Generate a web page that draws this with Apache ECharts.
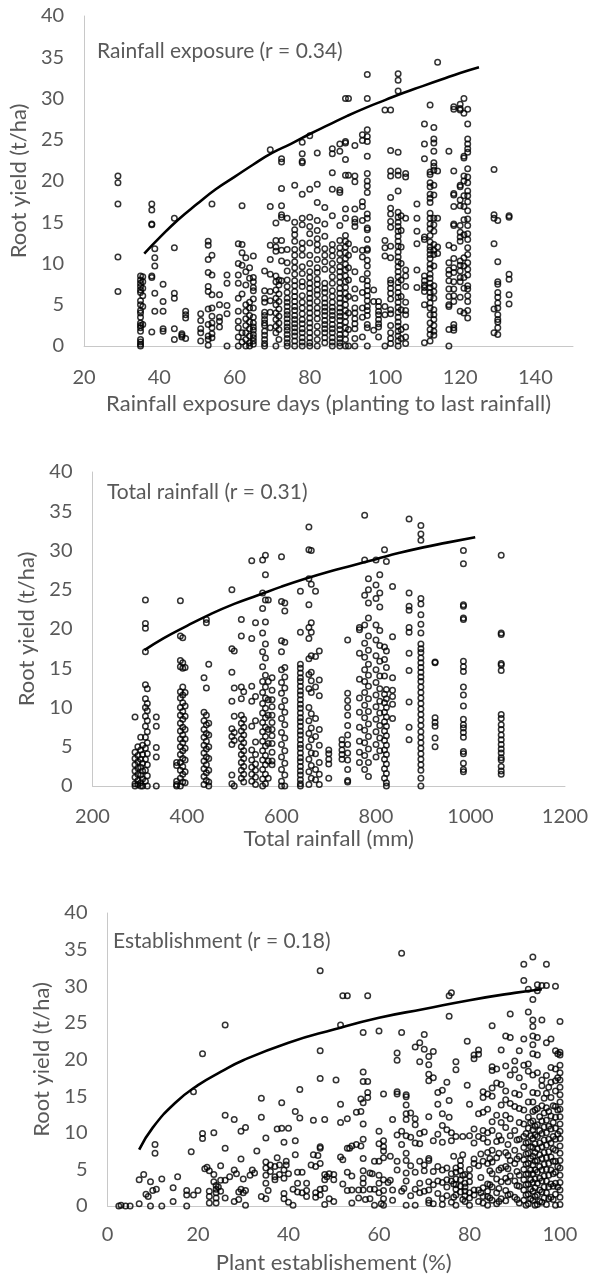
<!DOCTYPE html>
<html><head><meta charset="utf-8">
<script src="https://cdn.jsdelivr.net/npm/echarts@6/dist/echarts.min.js"></script>
<style>html,body{margin:0;padding:0;background:#fff}#c{width:592px;height:1277px}</style>
</head><body><div id="c"></div>
<script>
// Panel 1: rainfall exposure days -> yield, columns [x, [yields]]
const exposureCols = [
[29,[20.6,19.8,17.2,10.8,6.6]],
[35,[8.5,8.0,7.6,7.2,6.8,6.5,5.5,5.0,4.3,4.0,3.5,2.8,2.5,2.2,1.8,0.8,0.5,0.2,0]],
[35.6,[8.4,7.8,7.0,6.1,4.8,2.6]],
[38,[17.2,16.5,14.8,14.7,8.5,8.3,1.7]],
[38.8,[11.8,10.7,9.7,6.4,4.2]],
[41,[7.5,5.4,4.2,2.1,1.8]],
[44,[15.5,11.9,6.4,5.8,2.1,0.8]],
[46,[1.5,1.3,1.1]],
[47,[4.2,3.8,3.4,0.9]],
[51,[3.9,3.1,2.1,1.6,0.6]],
[53,[12.7,12.2,10.5,8.9,7.2,6.6,4.5,2.6,1.2,0.8,0.1]],
[54,[17.2,11.0,8.6,6.2,4.6,3.6,2.8,2.2,1.5,1.0]],
[56,[6.2,5.0,3.5,3.0,2.3]],
[58,[8.6,7.6,4.9,3.9,0]],
[61,[12.4,10.0,8.6,7.6,5.8,4.2,3.0,2.2,1.1,0]],
[62,[17.0,12.3,11.3,9.8,6.3,1.6,0.5]],
[63,[10.7,9.0,7.4,5.0,4.2,3.3,2.5,1.6,0.8,0]],
[64,[9.5,8.2,5.3,4.6,3.7,2.9,2.1,1.2,0.4,0]],
[65,[10.9,8.3,7.8,7.1,6.7,5.7,4.6,3.5,2.8,2.3,1.9,1.4,1.0,0.6,0.2]],
[68,[9.1,6.7,5.8,5.3,4.1,3.7,3.2,2.8,2.5,1.8,1.3,0.8,0.3,0]],
[69.5,[23.8,16.9,12.2,10.5,8.7,6.6,5.5,4.1,2.2]],
[71,[14.9,12.8,12.0,11.5,8.5,7.8,6.8,5.8,5.0,4.0,3.2,2.4,1.6,0]],
[71.8,[8.0,7.4,6.3,5.4,4.5,3.6,2.8,2.0,0.8]],
[72.5,[22.7,22.3,19.1,17.0,15.9,15.6,12.8,11.6,10.3,7.9]],
[74,[15.5,11.7,10.1,9.1,8.0,7.2,6.5,5.8,5.3,4.8,4.2,3.8,3.3,2.8,2.3,1.9,1.4,0.9,0.4,0]],
[76,[19.5,15.0,14.1,13.5,12.7,11.7,11.0,10.2,9.5,8.7,7.9,7.3,6.6,6.0,5.4,4.8,4.3,3.7,3.2,2.7,2.2,1.7,1.2,0.6,0]],
[78,[24.7,23.3,22.4,22.2,18.4,15.5,14.7,12.5,11.8,11.0,9.6,8.8,7.8,7.2,6.1,5.3,4.6,3.9,3.2,2.7,2.1,1.6,1.0,0.5,0]],
[80,[25.5,19.0,15.6,14.5,13.6,12.5,11.0,10.0,9.0,8.3,7.6,7.0,6.4,5.8,5.2,4.6,4.0,3.4,2.8,2.2,1.6,1.0,0.4,0]],
[82,[23.4,19.6,17.4,15.2,14.0,13.0,12.3,11.6,10.5,9.5,8.9,8.1,7.5,6.8,6.2,5.4,4.6,4.0,3.3,2.4,1.6,0.8,0]],
[84,[16.8,14.8,13.3,11.8,11.0,10.2,9.3,7.6,7.0,6.5,5.8,5.2,4.7,4.2,3.7,3.1,2.6,2.1,1.6,1.0,0.4]],
[86,[23.9,23.3,21.0,19.0,15.8,12.3,11.6,10.9,10.0,9.2,8.4,7.6,6.7,6.0,5.3,4.7,4.2,3.7,3.2,2.6,2.1,1.6,1.0,0.5,0]],
[88,[24.5,23.6,18.9,18.6,14.6,12.8,11.9,11.2,10.4,9.6,9.0,8.4,7.7,7.0,6.4,5.8,5.2,4.6,4.1,3.6,3.1,2.5,2.0,1.4,0.9,0.4,0]],
[89.5,[30.0,24.8,24.6,22.6,20.7,16.6,15.5,13.4,12.7,12.0,11.3,10.6,9.9,9.2,8.5,7.8,7.1,6.4,5.7,5.0,4.3,3.6,2.9,2.2,1.5,0.8,0]],
[90.3,[30.0,20.7,12.4,11.0,9.5,8.0,6.0,4.0,2.0,0]],
[92,[24.3,20.6,19.9,16.6,15.4,15.0,14.5,11.7,9.0,6.9,5.8,4.6,4.0,3.3,2.7,2.1,0.9,0]],
[94,[25.6,24.9,17.5,16.9,15.2,11.6,10.8,8.1,6.5,4.6,3.5,1.1]],
[95.3,[32.9,30.0,26.2,25.4,24.8,23.0,20.9,20.0,19.4,18.6,16.0,15.5,14.3,14.1,12.9,11.8,11.6,10.4,9.7,8.8,7.9,7.3,6.7,6.1,5.5,4.8,4.3,3.7,2.6,2.2,0]],
[97,[6.8,5.4,1.9]],
[98.3,[5.4,4.8,4.2,3.8,3.2,2.7,2.3,1.1]],
[100,[28.6,12.8,11.9,10.9,4.8,3.8,0]],
[101.5,[28.6,23.7,21.2,20.6,18.0,16.7,16.0,15.1,14.4,12.1,10.7,8.0,7.6,7.0,6.4,5.7,4.4,3.9,2.5,1.6,0.9,0.3]],
[103.5,[33.0,32.2,30.9,23.5,21.2,20.7,18.8,16.2,15.6,15.0,14.5,13.9,13.3,12.7,12.1,11.4,10.8,10.2,9.6,9.0,8.4,7.7,7.1,6.5,5.9,5.3,4.7,4.1,3.5,2.9,2.4,1.8,1.2,0.6,0]],
[104.3,[15.8,14.0,12.0,10.0,8.0,6.0,4.4,2.0,0.9]],
[105.5,[20.9,20.5,15.5,9.2,8.5,7.2,5.3,4.3,3.8,2.3,1.1,0.3]],
[108.5,[17.2,15.5,13.9,12.4,9.2,7.1]],
[110.5,[26.9,24.5,22.7,13.2,12.9,8.5,7.9,7.4,7.1,6.6,5.0,0.4]],
[112,[29.2,21.1,20.8,19.8,19.3,18.4,17.9,17.4,16.1,15.5,14.8,14.2,13.4,12.6,12.0,11.6,11.1,10.6,9.9,9.4,8.7,8.2,7.6,7.1,6.5,5.9,5.2,4.6,3.8,2.8,2.0,1.4,0.6]],
[113,[26.5,25.1,24.6,23.6,22.2,21.8,21.3,19.5,18.3,15.5,14.7,13.9,12.3,11.6,11.1,9.7,7.3,6.6,5.8,4.4,3.8,3.2,2.5,1.8,1.3]],
[114,[34.4,21.2,15.5,12.0,11.2]],
[117,[23.6,12.2,10.1,9.2,8.7,7.9,6.9,6.0,5.0,4.8,2.0,0]],
[118.3,[29.0,28.7,21.2,18.5,18.3,16.9,14.8,14.6,11.9,10.6,9.5,8.9,7.8,6.9,6.1,5.4,2.6,2.2,1.9]],
[120,[29.3,28.6,28.8,19.5,19.3,17.7,17.0,14.6,13.8,13.2,12.7,10.3,9.8,9.1,8.3,7.8,5.9,4.2]],
[121,[30.0,28.2,23.0,22.8,20.6,20.0,18.2,16.9,15.3,13.5,10.7,9.7,8.3,7.0,4.0]],
[122,[28.7,26.9,25.1,24.5,23.9,23.5,21.5,20.5,19.8,18.8,18.2,17.5,16.4,15.4,14.6,13.6,12.9,11.9,11.1,10.1,9.3,8.6,7.3,6.9,6.1,5.4,4.3,3.4]],
[129,[21.4,15.9,15.5,12.4,4.5,1.6]],
[130,[15.2,10.2,7.8,7.5,6.5,5.9,5.2,4.6,3.8,3.2,2.9,2.2,1.4]],
[133,[15.8,15.6,8.7,8.1,6.2,5.1]]
];
const exposureTrend = [[36,11.2],[40,13.1],[45,15.3],[50,17.2],[55,19.0],[60,20.5],[65,22.0],[70,23.4],[75,24.5],[80,25.7],[85,26.8],[90,27.9],[95,28.9],[100,29.8],[105,30.7],[110,31.5],[115,32.3],[120,33.1],[125,33.8]];

// Panel 2: total rainfall (mm) -> yield
const rainfallCols = [
[290,[8.8,4.3,3.5,2.7,1.9,1.1,0.3,0]],[296,[5,3.9,3.1,2.3,1.5,0.7,0.2]],[302,[6.2,4.6,3.4,2.4,1.4,0.4,0]],[306,[5.2,4.0,2.9,1.9,0.9,0]],
[312,[23.7,20.7,20.1,17.1,12.9,11.1,10.0,8.9,7.6,6.2,4.8,3.4,2.0,0.6]],[316,[12.4,10.5,9.6,8.3,6.9,5.5,4.1,2.7,1.3,0]],
[335,[8.8,7.6,4.9,3.7,0]],
[378,[3.0,2.6,0.6,0.2,0]],
[386,[23.6,19.1,16.0,15.2,12.0,11.2,10.0,9.0,8.0,7.0,6.0,5.0,4.0,3.0,2.0,1.0,0]],[391,[18.9,15.7,15.0,12.6,11.6,10.6,9.5,8.5,7.5,6.5,5.5,4.5,3.5,2.5,1.5,0.5]],[396,[15.1,11.9,10.2,8.9,7.2,6.0,4.8,3.3,1.8,0.4]],
[436,[13.8,9.4,8.3,7.2,6.2,5.2,4.2,3.2,2.2,1.2,0.2]],[441,[21.2,20.8,12.5,9.0,7.8,6.7,5.7,4.7,3.7,2.7,1.7,0.7]],[446,[15.5,8.0,6.5,5.0,3.5,2.0,0.5,0]],
[495,[25.0,17.5,14.5,10.8,7.3,6.3,5.3,1.4,0.3]],[500,[17.2,12.5,8.9,6.8,5.8,0]],
[515,[21.2,19.1,12.6,11.1,9.0,8.0,7.0,6.0,5.0,4.0,3.0,2.0,1.0]],[520,[12.0,8.5,7.5,6.5,5.5,4.5,3.5,2.5,1.5,0.5]],
[537,[28.7,18.8,12.7,10.8,7.6,4.6,3.3,2.4,1.5,0.6]],[545,[20.8,11.4,8.3,5.6,4.0,2.8,2.0,1.1,0.2]],
[560,[28.8,24.6,22.6,19.5,17.1,15.2,13.3,11.9,10.5,9.3,8.1,6.9,5.7,4.5,3.3,2.1,0.9,0]],[566,[29.4,26.9,23.7,20.9,18.1,16.3,14.1,12.6,11.2,9.9,8.7,7.5,6.3,5.1,3.9,2.7,1.5,0.3]],[572,[23.7,13.3,11.0,9.0,7.2,5.4,3.2,1.0]],
[580,[13.8,12.2,11.0,10.1,9.0,8.1,7.2,6.4,5.4,4.3,3.2,2.7]],
[600,[29.2,23.5,18.5,17.1,14.8,13.2,11.8,10.1,8.6,6.8,5.3,3.7,2.1,0.6,0]],[607,[23.3,22.3,18.3,15.1,13.9,12.5,10.9,9.4,7.8,6.1,4.5,2.9,1.4,0]],
[640,[24.8,19.6,15.5,15.0,14.4,13.8,13.3,12.7,12.1,11.6,11.0,10.4,9.9,9.3,8.7,8.2,7.6,7.0,6.5,5.9,5.3,4.8,4.2,3.6,3.1,2.5,1.9,1.4,0.8,0.3,0]],
[658,[33.0,30.1,26.4,23.1,20.2,18.8,16.2,14.2,12.4,10.0,8.3,6.7,5.0,3.4,1.8,0.2]],[663,[30.0,25.7,20.8,19.6,16.6,14.5,13.4,11.9,9.2,7.4,5.9,4.2,2.6,1.0]],
[672,[24.8,16.5,12.6,8.6,6.3,4.1,2.1,0.8]],[680,[17.2,13.5,11.5,7.2,5.2,3.0,1.5,0.2]],
[700,[4.6,4.1,3.4,2.8,1.0]],
[728,[5.9,5.3,4.6,4.0,3.4]],
[740,[18.6,11.8,10.9,10.0,9.0,7.7,6.5,5.3,4.2,3.3,2.1,0.7,0.5]],
[765,[20.2,19.9,16.9,13.6,11.2,9.4,7.5,5.7,4.3,3.0]],
[776,[34.5,28.8,24.3,20.5,18.2,16.4,14.8,13.3,11.9,10.3,8.7,7.1,5.5,3.9,2.1]],[784,[26.4,25.0,23.3,21.4,19.1,17.3,15.5,14.1,12.7,11.1,9.5,7.9,6.3,4.7,3.0,1.2]],
[800,[28.8,25.6,23.9,20.5,18.6,16.6,14.8,13.2,11.6,10.1,8.5,6.9,5.3,3.7]],[808,[26.9,24.6,22.8,19.8,17.9,15.9,14.0,12.4,10.8,9.3,7.7,6.1,4.5]],
[818,[30.1,17.7,16.1,14.0,11.7,10.6,9.4,8.2,7.0,5.8,4.6,3.4,2.2,1.0]],[822,[28.6,17.2,15.1,12.3,11.1,10.0,8.8,7.6,6.4,5.2,4.0,2.8,1.6,0.4,0]],
[835,[25.4,19.0,13.8,12.2,11.4,10.4,8.6]],
[870,[34.0,24.6,22.9,22.4,20.2,19.6,16.9,14.7,10.7,7.5,5.9]],
[895,[33.2,32.1,31.3,23.9,23.2,21.8,20.6,19.5,18.1,17.5,17.0,16.3,15.7,15.1,14.5,13.9,13.3,12.6,11.9,11.2,10.5,9.8,9.1,8.4,7.7,6.9,6.2,5.5,4.8,4.1,3.4,2.7,2.0,1.0,0]],
[925,[15.8,15.7,8.7,8.1,7.6,6.1,5.0]],
[985,[30.0,28.3,23.1,22.9,21.4,21.2,15.9,15.2,14.6,12.6,11.6,10.2,8.5,7.8,7.4,6.8,6.2,4.4,4.1,2.9,2.1,1.8]],
[1065,[29.4,19.5,19.3,15.6,15.4,14.7,9.1,8.6,7.8,7.2,6.5,5.9,5.3,4.7,4.2,3.6,3.3,2.5,1.9,1.5]]
];
const rainfallTrend = [[310,17.3],[350,18.8],[400,20.4],[450,21.9],[500,23.2],[550,24.3],[600,25.4],[650,26.4],[700,27.3],[750,28.1],[800,28.9],[850,29.7],[900,30.4],[950,31.0],[1010,31.7]];

// Panel 3: plant establishment (%) -> yield, points [x, y]
const establishPts = [
[2.5,0],[3,0.1],[4,0],[5,0],[7,0.3],[7,3.6],[8,4.3],[8.5,1.6],[9,1.3],[9.5,3.3],[9.5,0],[10,2.1],[10.5,8.4],[10.5,7.2],[10.8,2.3],[12,3.7],[12,0],[14.5,2.5],[14.5,0.6],[15.5,4.0],[17.5,2.1],[17.5,1.5],[17.5,0],[18.5,7.4],[19,15.6],[19,1.5],[20,2.1],[21,9.9],[21,9.2],[21,20.8],[21.5,5.1],[22,5.3],[22.5,4.8],[22.5,2.0],[22.5,1.3],[22.5,0.4],[23.5,10],[23.5,4.3],[23.5,3.3],[24,2.8],[24,2.3],[24,1.8],[24,1.1],[24,0.4],[24.5,2.6],[25,5.5],[25,3.5],[25,2.0],[26,24.7],[26,12.4],[26,7.9],[26,3.5],[26,1.1],[27,4],[28,11.8],[28,4.9],[28,0.6],[28.5,4.4],[29,1.9],[29,0.9],[29.5,10.2],[29.5,6.4],[29.5,2.3],[30,3.7],[30,1.8],[30.5,10.7],[30.5,2.1],[30.5,0.1],[31.5,4.2],[32,4.9],[32.5,4.5],[33,7.5],[34,14.7],[34,12.1],[34,1.3],[35,9.3],[35,6.0],[35,5.2],[35,4.2],[35,3.1],[35,1.0],[35.5,2.1],[36,5.6],[36,4.7],[37,5.4],[37,4.0],[37,3.6],[37.5,10.5],[37.5,6.6],[38,5.6],[38,4.3],[38.5,14.1],[38.5,10.6],[39,8.7],[39,4.9],[39,3.8],[39,1.7],[39,1.0],[39.5,6.1],[39.5,5.6],[40,10.6],[40,4.4],[40,0.5],[41,2.3],[41,0.1],[41.5,12.9],[41.5,8.9],[41.5,7.0],[42,4.6],[42,3.1],[42,1.9],[42.5,12.0],[42.5,15.9],[43,4.6],[43,1.8],[44,3.1],[44,1.3],[44,2.1],[45,5.6],[45.5,7.0],[45.5,11.7],[46,5.4],[46,1.8],[46,1.2],[46.5,6.9],[47,8.1],[47,7.9],[47,5.8],[47,17.4],[47,21.2],[47,32.1],[47,2.3],[47,1.5],[48,11.8],[48,4.3],[48,3.6],[48,2.4],[48,0.2],[48.5,4.0],[49,4.4],[49,1.0],[50,4.3],[50,3.6],[50,0.6],[50.5,17.2],[51.5,6.7],[51.5,13.9],[51.5,11.4],[51.5,24.7],[52,28.7],[52,3.0],[52,6.3],[53,28.7],[53,11.9],[53,7.9],[53,4.6],[53,2.1],[53.5,7.9],[54,8.2],[54,4.1],[54,2.2],[54,0.4],[55,8.4],[55,12.8],[55.5,2.2],[55.5,1.1],[56,14.6],[56,8.2],[56,12.9],[56.5,23.7],[56.5,18.3],[56.5,17.0],[56.5,14.1],[56.5,11.2],[56.5,9.1],[56.5,6.5],[56.5,4.8],[56.5,3.8],[56.5,3.1],[56.5,2.2],[57,0.9],[57.5,17.0],[57.5,15.5],[57.5,14.8],[57.5,28.7],[58,4.5],[58,2.3],[58,1.0],[58.5,4.4],[59,6.1],[59,2.3],[59,0.1],[60,23.9],[60,10.2],[60,8.5],[60,6.1],[60,4.2],[60,3.1],[60,1.8],[60.5,0.3],[61,15.3],[61,8.9],[61,8.1],[61,7.5],[61,6.6],[61,3.6],[61,2.1],[61,1.0],[61,0.1],[62,3.2],[62.5,6.8],[62.5,3.5],[63,11.8],[63,2.2],[63,0.8],[64,15.6],[64,15.3],[64,20.9],[64,19.9],[64,9.7],[64,4.9],[64,6.1],[65,23.7],[65,34.5],[65,10.2],[65,8.4],[65,2.0],[65.5,2.4],[66,15.2],[66,14.9],[66,13.8],[66,12.6],[66,11.8],[66,9.6],[66,7.2],[66,6.2],[66,4.5],[66,3.4],[66,0.1],[67,12.7],[67,9.4],[67,5.5],[67,1.4],[68,21.7],[68,11.9],[68,11.1],[68,8.6],[68,4.6],[68,2.3],[68,0.1],[69,22.3],[69,19.7],[69,9.9],[69,8.5],[69,6.1],[69,3.1],[69,1.8],[70,23.4],[70,21.4],[70,10.1],[70,5.6],[70,4.8],[70,2.0],[71,20.4],[71,19.3],[71,18.0],[71,17.1],[71,12.2],[71,6.5],[71,6.2],[71,3.3],[71,2.2],[71,0.8],[71,0.4],[72,21.1],[72,17.5],[72,8.9],[72,4.7],[72,2.9],[72,0.3],[73,15.5],[73,13.9],[73,9.8],[73,5.4],[73,3.4],[73,1.7],[74,15.8],[74,12.6],[74,11.0],[74,8.7],[74,4.9],[74,3.2],[74,1.0],[74,0.2],[75,16.9],[75,10.4],[75,5.2],[75,3.6],[75,2.6],[75,1.4],[75.5,14.4],[75.5,12.1],[75.5,25.9],[75.5,28.7],[76,29.1],[76,10.0],[76,8.9],[76,4.4],[76,3.4],[76,0.5],[76.5,6.8],[76.5,3.0],[76.5,1.2],[77,18.6],[77,19.7],[77,9.5],[77,5.2],[77,4.6],[77,3.7],[77,2.9],[77,2.3],[77,1.5],[77,0.1],[78,6.2],[78,5.5],[78,4.8],[78,3.6],[78,2.7],[78,1.9],[78.5,9.5],[78.5,7.0],[78.5,4.2],[78.5,0.9],[79,4.3],[79,3.1],[79,2.6],[79,2.0],[79,1.4],[79,0.6],[79.5,16.5],[79.5,22.5],[80,13.9],[80,9.6],[80,5.0],[80,4.1],[80,3.3],[80,1.8],[80,1.1],[80,0.1],[81,20.6],[81,20.1],[81,10.5],[81,8.6],[81,6.4],[81,5.8],[81,2.2],[81,1.5],[82,21.3],[82,20.7],[82,12.6],[82,9.5],[82,5.5],[82,2.2],[82,0.6],[82.5,7.1],[82.5,3.9],[82.5,1.8],[83,15.6],[83,14.8],[83,12.8],[83,10.3],[83,9.2],[83,6.1],[83,2.5],[83,1.3],[83,0.4],[84,15.3],[84,13.2],[84,10.0],[84,8.7],[84,7.3],[84,5.8],[84,3.0],[84,2.0],[84,1.3],[84,0.1],[84.5,6.5],[84.5,4.8],[84.5,2.9],[84.5,1.1],[85,24.6],[85,19.0],[85,18.5],[85,16.1],[85,15.0],[85,11.5],[85,10.3],[85,7.6],[85,6.0],[85,4.4],[85,2.6],[85,0.8],[86,16.8],[86,18.7],[86,12.4],[86,8.8],[86,6.6],[86,3.7],[86,1.8],[86,0.3],[86.5,9.6],[86.5,7.2],[86.5,4.9],[86.5,2.4],[86.5,0.6],[87,21.3],[87,16.6],[87,13.8],[87,11.4],[87,9.0],[87,5.2],[87,3.3],[87,1.0],[88,23.2],[88,19.1],[88,15.7],[88,14.5],[88,12.4],[88,10.7],[88,7.3],[88,5.4],[88,3.8],[88,2.1],[88,0.7],[88.5,8.4],[88.5,6.9],[88.5,5.1],[88.5,3.3],[88.5,1.5],[89,26.2],[89,23.0],[89,17.9],[89,14.0],[89,11.9],[89,9.6],[89,6.2],[89,4.1],[89,1.6],[90,19.8],[90,18.6],[90,15.4],[90,13.6],[90,10.3],[90,7.6],[90,5.8],[90,3.4],[90,1.2],[90.5,9.0],[90.5,6.4],[90.5,4.7],[90.5,2.8],[90.5,0.9],[91,21.2],[91,17.5],[91,15.2],[91,13.3],[91,11.4],[91,9.1],[91,6.8],[91,4.2],[91,2.7],[91,0.4],[92,30.8],[92,33.0],[92,22.8],[92,19.2],[92,16.3],[92,13.1],[92,11.2],[92,9.5],[92,8.0],[92,6.3],[92,5.0],[92,3.6],[92,2.2],[92,0.8],[92.5,9.9],[92.5,8.6],[92.5,7.1],[92.5,5.7],[92.5,4.3],[92.5,2.9],[92.5,1.5],[92.5,0.1],[93,29.6],[93,26.5],[93,19.4],[93,18.4],[93,14.2],[93,12.1],[93,10.6],[93,8.7],[93,7.2],[93,5.8],[93,4.4],[93,3.0],[93,1.6],[93,0.3],[93.5,11.4],[93.5,9.6],[93.5,8.1],[93.5,6.5],[93.5,4.9],[93.5,3.6],[93.5,2.3],[93.5,1.0],[94,34.0],[94,28.2],[94,25.4],[94,24.5],[94,23.2],[94,22.0],[94,20.8],[94,17.9],[94,15.5],[94,14.2],[94,12.9],[94,11.6],[94,10.4],[94,9.2],[94,8.0],[94,6.8],[94,5.6],[94,4.4],[94,3.2],[94,2.0],[94,0.8],[94.5,13.1],[94.5,10.9],[94.5,9.7],[94.5,8.5],[94.5,7.3],[94.5,6.1],[94.5,4.9],[94.5,3.7],[94.5,2.5],[94.5,1.3],[94.5,0.1],[95,30.2],[95,29.4],[95,23.0],[95,20.6],[95,18.2],[95,15.4],[95,13.3],[95,11.1],[95,9.5],[95,7.8],[95,6.2],[95,4.6],[95,3.1],[95,1.5],[95,0.2],[95.5,12.2],[95.5,10.3],[95.5,8.6],[95.5,7.0],[95.5,5.4],[95.5,3.8],[95.5,2.2],[95.5,0.6],[96,30.1],[96,25.4],[96,17.2],[96,16.4],[96,13.7],[96,11.6],[96,9.9],[96,8.1],[96,6.5],[96,4.9],[96,3.4],[96,1.9],[96,0.5],[96.5,14.7],[96.5,12.7],[96.5,10.8],[96.5,9.0],[96.5,7.3],[96.5,5.7],[96.5,4.1],[96.5,2.6],[96.5,1.1],[97,33.0],[97,30.1],[97,22.3],[97,17.8],[97,15.4],[97,13.4],[97,11.7],[97,10.0],[97,8.3],[97,6.6],[97,5.0],[97,3.4],[97,1.8],[97,0.2],[97.5,16.2],[97.5,12.9],[97.5,10.9],[97.5,9.1],[97.5,7.4],[97.5,5.8],[97.5,4.2],[97.5,2.6],[97.5,1.0],[98,22.8],[98,18.9],[98,16.9],[98,14.8],[98,12.3],[98,10.5],[98,8.6],[98,6.7],[98,4.9],[98,3.0],[98,1.2],[98.5,13.7],[98.5,11.4],[98.5,9.5],[98.5,7.8],[98.5,6.1],[98.5,4.4],[98.5,2.7],[98.5,0.9],[99,30.0],[99,21.2],[99,18.7],[99,17.1],[99,15.7],[99,13.6],[99,12.1],[99,10.6],[99,9.1],[99,7.6],[99,6.1],[99,4.6],[99,3.1],[99,1.6],[99,0.1],[99.5,20.8],[99.5,17.5],[99.5,13.1],[99.5,9.8],[99.5,5.4],[99.5,2.6],[100,25.2],[100,21.0],[100,20.6],[100,19.2],[100,18.2],[100,17.2],[100,16.2],[100,15.2],[100,14.2],[100,13.2],[100,12.2],[100,11.2],[100,10.2],[100,9.2],[100,8.2],[100,7.2],[100,6.2],[100,5.2],[100,4.2],[100,3.2],[100,2.2],[100,1.2],[100,0.2]
];
const establishTrend = [[7,7.7],[10,10.7],[15,14.1],[20,16.5],[25,18.3],[30,19.9],[40,22.3],[50,24.1],[60,25.7],[70,26.9],[80,28.1],[90,29.1],[96,29.6]];

const annotations = ['Rainfall exposure (r = 0.34)', 'Total rainfall (r = 0.31)', 'Establishment (r = 0.18)'];
const xTitles = ['Rainfall exposure days (planting to last rainfall)', 'Total rainfall (mm)', 'Plant establishement (%)'];
const yTitle = 'Root yield (t/ha)';

function flatten(cols){ const out=[]; cols.forEach(c=>c[1].forEach(y=>out.push([c[0],y]))); return out; }

const FONT = 'Lato, "Open Sans", sans-serif';
const GRAY = '#595959';
const grids = [
  {left:81, top:16, width:492, height:330},
  {left:92.5, top:472, width:472.5, height:314},
  {left:107.5, top:913, width:452.5, height:293}
];
const xRanges = [[20,150,20],[200,1200,200],[0,100,20]];
const xLabelMargin = [22, 21, 19];
const xNameGap = [47, 38, 46];
const yNameGap = [52, 48, 46];

const chart = echarts.init(document.getElementById('c'), null, {renderer:'canvas'});
const xAxis = [], yAxis = [];
for (let i=0;i<3;i++){
  xAxis.push({gridIndex:i, type:'value', min:xRanges[i][0], max:xRanges[i][1], interval:xRanges[i][2],
    name:xTitles[i], nameLocation:'middle', nameGap:xNameGap[i],
    nameTextStyle:{color:GRAY, fontSize:22, fontFamily:FONT},
    axisLine:{show:true, onZero:false, lineStyle:{color:'#c8c8c8', width:1}},
    axisTick:{show:false}, splitLine:{show:false},
    axisLabel:{color:GRAY, fontSize:20, fontFamily:FONT, margin:xLabelMargin[i], showMaxLabel: i!==0,
      formatter: v => String(v)}});
  yAxis.push({gridIndex:i, type:'value', min:0, max:40, interval:5,
    name:yTitle, nameLocation:'middle', nameGap:yNameGap[i],
    nameTextStyle:{color:GRAY, fontSize:22, fontFamily:FONT},
    axisLine:{show:true, lineStyle:{color:'#c8c8c8', width:1}},
    axisTick:{show:false}, splitLine:{show:false},
    axisLabel:{color:GRAY, fontSize:20, fontFamily:FONT, margin:20}});
}
const scatterStyle = {color:'rgba(0,0,0,0)', borderColor:'#000', borderWidth:1.5};
const datasets = [flatten(exposureCols), flatten(rainfallCols), establishPts];
const trends = [exposureTrend, rainfallTrend, establishTrend];
const series = [];
for (let i=0;i<3;i++){
  series.push({type:'scatter', xAxisIndex:i, yAxisIndex:i, data:datasets[i], symbol:'circle', symbolSize:5.5, itemStyle:scatterStyle, silent:true});
  series.push({type:'line', xAxisIndex:i, yAxisIndex:i, data:trends[i], smooth:true, showSymbol:false, lineStyle:{color:'#000', width:2.6}, silent:true});
}
const annPos = [[97,52],[107,493],[113,942]];
chart.setOption({
  animation:false,
  backgroundColor:'#fff',
  grid:grids,
  xAxis:xAxis, yAxis:yAxis, series:series,
  graphic: annotations.map((t,i)=>({type:'text', left:annPos[i][0], top:annPos[i][1]-11,
    style:{text:t, fill:GRAY, font:'21px '+FONT}}))
});
</script></body></html>
